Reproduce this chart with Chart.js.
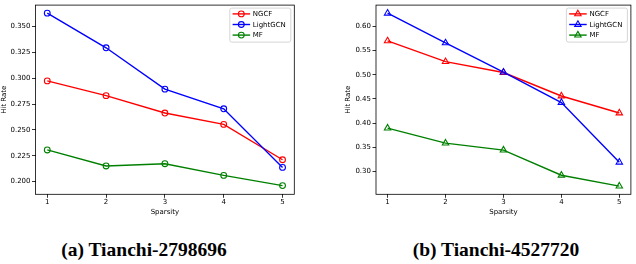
<!DOCTYPE html>
<html>
<head>
<meta charset="utf-8">
<script src="https://cdn.jsdelivr.net/npm/chart.js@4.4.1/dist/chart.umd.min.js"></script>
<style>
  body { margin: 0; background: #fff; width: 636px; height: 264px; position: relative; overflow: hidden; }
  canvas { position: absolute; top: 0; }
  .cap { position: absolute; top: 239px; font: bold 19.5px "Liberation Serif", serif; white-space: nowrap; transform: translateX(-50%); color: #000; }
</style>
</head>
<body>
<canvas id="left" width="318" height="216" style="left:0"></canvas>
<canvas id="right" width="318" height="216" style="left:318px"></canvas>
<div class="cap" style="left:144px">(a) Tianchi-2798696</div>
<div class="cap" style="left:496px">(b) Tianchi-4527720</div>
<script>
// data
var sparsity = [1, 2, 3, 4, 5]
var seriesNames = ['NGCF', 'LightGCN', 'MF']
var seriesColors = ['#ff0000', '#0000ff', '#008000']

var leftNGCF     = [0.2975, 0.2832, 0.2664, 0.2554, 0.2212]
var leftLightGCN = [0.3630, 0.3295, 0.2895, 0.2705, 0.2138]
var leftMF       = [0.2307, 0.2152, 0.2174, 0.2061, 0.1962]
var leftYTicks   = [0.200, 0.225, 0.250, 0.275, 0.300, 0.325, 0.350]

var rightNGCF     = [0.5698, 0.5270, 0.5047, 0.4561, 0.4210]
var rightLightGCN = [0.6270, 0.5657, 0.5053, 0.4427, 0.3194]
var rightMF       = [0.3898, 0.3588, 0.3445, 0.2925, 0.2700]
var rightYTicks   = [0.30, 0.35, 0.40, 0.45, 0.50, 0.55, 0.60]

var FONT = { family: 'DejaVu Sans', size: 7 }

// little helper: the marker shape (same geometry as chart.js uses)
function marker(ctx, style, x, y, r) {
    ctx.beginPath()
    if (style == 'triangle') {
        var a = 0
        ctx.moveTo(x + Math.sin(a) * r, y - Math.cos(a) * r)
        a += 2 * Math.PI / 3
        ctx.lineTo(x + Math.sin(a) * r, y - Math.cos(a) * r)
        a += 2 * Math.PI / 3
        ctx.lineTo(x + Math.sin(a) * r, y - Math.cos(a) * r)
        ctx.closePath()
    } else {
        ctx.arc(x, y, r, 0, Math.PI * 2)
    }
    ctx.stroke()
}

// frame round the plot + legend box in the upper right corner
var framePlugin = {
    id: 'frame',
    afterDatasetsDraw(chart) {
        var a = chart.chartArea
        var ctx = chart.ctx
        ctx.save()
        ctx.strokeStyle = '#000'
        ctx.lineWidth = 0.8
        ctx.strokeRect(a.left, a.top, a.right - a.left, a.bottom - a.top)

        var bw = 61, bh = 34
        var bx = a.right - 3.5 - bw
        var by = a.top + 3
        ctx.fillStyle = 'rgba(255,255,255,0.8)'
        ctx.strokeStyle = '#cccccc'
        ctx.beginPath()
        ctx.roundRect(bx, by, bw, bh, 2)
        ctx.fill()
        ctx.stroke()

        ctx.font = '7px "DejaVu Sans"'
        ctx.textBaseline = 'middle'
        ctx.textAlign = 'left'
        chart.data.datasets.forEach((ds, i) => {
            var yy = by + 5.8 + i * 10.6
            ctx.strokeStyle = ds.borderColor
            ctx.lineWidth = ds.borderWidth
            ctx.beginPath()
            ctx.moveTo(bx + 2.8, yy)
            ctx.lineTo(bx + 20.3, yy)
            ctx.stroke()
            ctx.lineWidth = ds.pointBorderWidth
            marker(ctx, ds.pointStyle, bx + 11.5, yy, ds.pointRadius)
            ctx.fillStyle = '#000'
            ctx.fillText(ds.label, bx + 23, yy + 0.5)
        })
        ctx.restore()
    }
}

function makeChart(id, series, yTicks, yMin, yMax, decimals, style, radius, pad, yWidth) {
    var datasets = series.map((vals, i) => ({
        label: seriesNames[i],
        data: sparsity.map((s, j) => ({ x: s, y: vals[j] })),
        borderColor: seriesColors[i],
        backgroundColor: 'rgba(0,0,0,0)',
        borderWidth: 1.4,
        pointStyle: style,
        pointRadius: radius,
        pointBorderWidth: 1.1,
        pointBackgroundColor: 'rgba(0,0,0,0)',
        pointBorderColor: seriesColors[i],
        tension: 0,
        order: 3 - i   // matplotlib draws the later lines on top
    }))

    return new Chart(document.getElementById(id), {
        type: 'line',
        data: { datasets: datasets },
        plugins: [framePlugin],
        options: {
            responsive: false,
            animation: false,
            layout: { padding: pad },
            plugins: { legend: { display: false }, tooltip: { enabled: false } },
            scales: {
                x: {
                    type: 'linear', min: 0.8, max: 5.2,
                    afterBuildTicks: s => { s.ticks = sparsity.map(v => ({ value: v })) },
                    afterFit: s => { s.height = 21.7; s.paddingLeft = 0; s.paddingRight = 0 },
                    ticks: { color: '#000', font: FONT, padding: 0, maxRotation: 0, callback: v => String(v) },
                    grid: { drawOnChartArea: false, drawTicks: true, tickLength: 3.5, tickColor: '#000', lineWidth: 0.8 },
                    border: { display: false },
                    title: { display: true, text: 'Sparsity', color: '#000', font: FONT, padding: 0 }
                },
                y: {
                    type: 'linear', min: yMin, max: yMax,
                    afterBuildTicks: s => { s.ticks = yTicks.map(v => ({ value: v })) },
                    afterFit: s => { s.width = yWidth; s.paddingTop = 0; s.paddingBottom = 0 },
                    ticks: { color: '#000', font: FONT, padding: 1.5, callback: v => Number(v).toFixed(decimals) },
                    grid: { drawOnChartArea: false, drawTicks: true, tickLength: 3.5, tickColor: '#000', lineWidth: 0.8 },
                    border: { display: false },
                    title: { display: true, text: 'Hit Rate', color: '#000', font: FONT, padding: 0 }
                }
            }
        }
    })
}

makeChart('left', [leftNGCF, leftLightGCN, leftMF], leftYTicks, 0.1878, 0.3708, 3,
    'circle', 2.9, { left: 0, top: 2.5, right: 23.7, bottom: 0 }, 35.5)

makeChart('right', [rightNGCF, rightLightGCN, rightMF], rightYTicks, 0.2532, 0.6438, 2,
    'triangle', 3.7, { left: 25.8, top: 2.5, right: 1.5, bottom: 0 }, 32.2)
</script>
</body>
</html>
